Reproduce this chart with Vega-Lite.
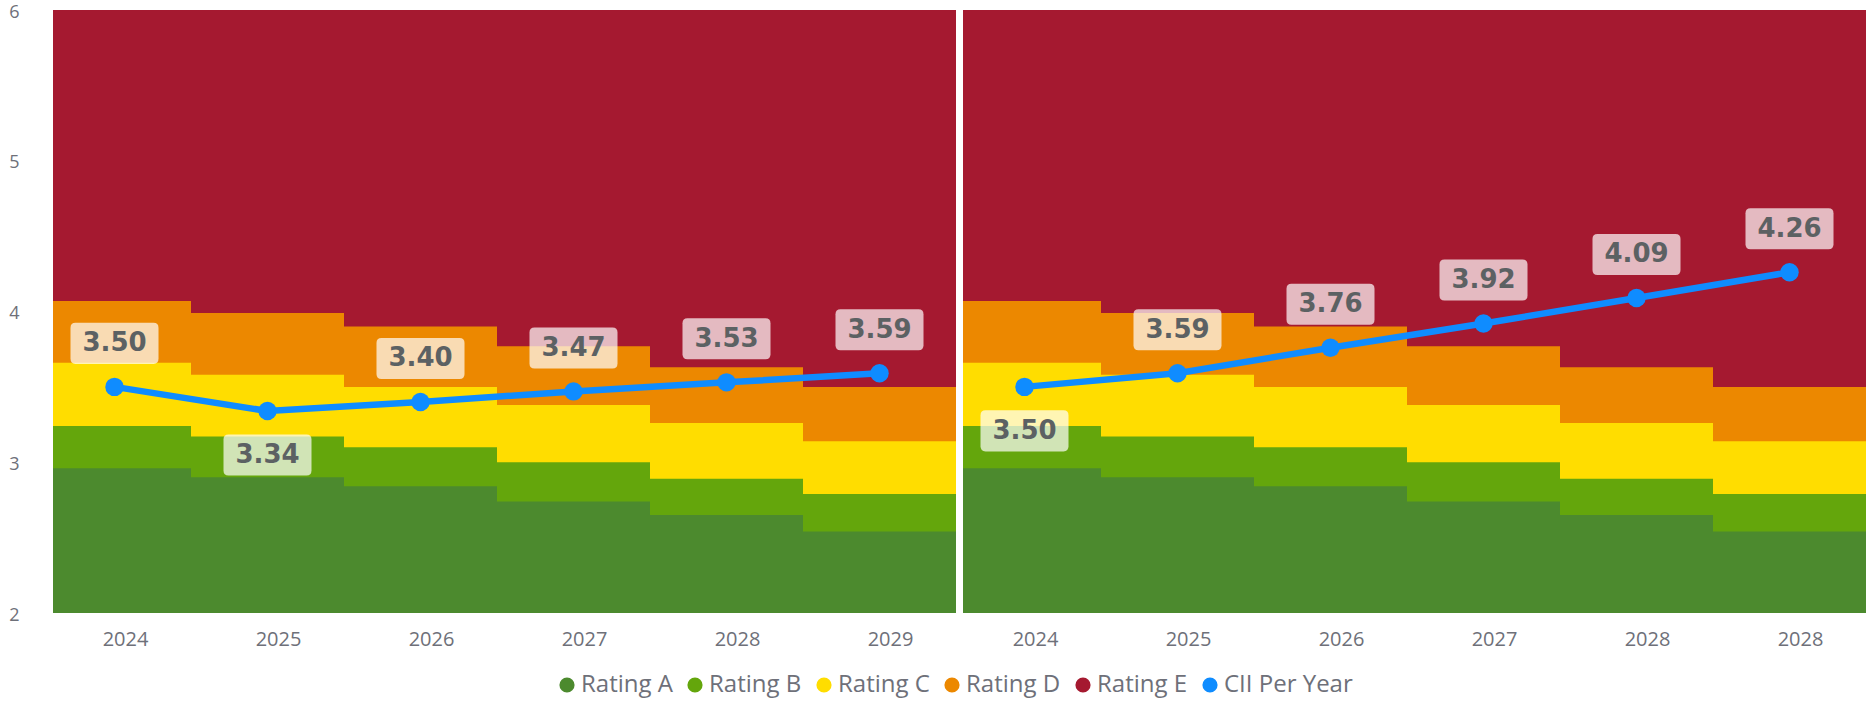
{
  "$schema": "https://vega.github.io/schema/vega-lite/v6.json",
  "background": "white",
  "padding": {"left": 8, "top": 3, "right": 0, "bottom": 4},
  "spacing": 7,
  "bounds": "flush",
  "datasets": {
    "bands": [
      {"panel": "L", "year": "2024", "rating": "Rating E", "hi": 6},
      {"panel": "L", "year": "2025", "rating": "Rating E", "hi": 6},
      {"panel": "L", "year": "2026", "rating": "Rating E", "hi": 6},
      {"panel": "L", "year": "2027", "rating": "Rating E", "hi": 6},
      {"panel": "L", "year": "2028", "rating": "Rating E", "hi": 6},
      {"panel": "L", "year": "2029", "rating": "Rating E", "hi": 6},
      {"panel": "L", "year": "2024", "rating": "Rating D", "hi": 4.07},
      {"panel": "L", "year": "2025", "rating": "Rating D", "hi": 3.99},
      {"panel": "L", "year": "2026", "rating": "Rating D", "hi": 3.90},
      {"panel": "L", "year": "2027", "rating": "Rating D", "hi": 3.77},
      {"panel": "L", "year": "2028", "rating": "Rating D", "hi": 3.63},
      {"panel": "L", "year": "2029", "rating": "Rating D", "hi": 3.50},
      {"panel": "L", "year": "2024", "rating": "Rating C", "hi": 3.66},
      {"panel": "L", "year": "2025", "rating": "Rating C", "hi": 3.58},
      {"panel": "L", "year": "2026", "rating": "Rating C", "hi": 3.50},
      {"panel": "L", "year": "2027", "rating": "Rating C", "hi": 3.38},
      {"panel": "L", "year": "2028", "rating": "Rating C", "hi": 3.26},
      {"panel": "L", "year": "2029", "rating": "Rating C", "hi": 3.14},
      {"panel": "L", "year": "2024", "rating": "Rating B", "hi": 3.24},
      {"panel": "L", "year": "2025", "rating": "Rating B", "hi": 3.17},
      {"panel": "L", "year": "2026", "rating": "Rating B", "hi": 3.10},
      {"panel": "L", "year": "2027", "rating": "Rating B", "hi": 3.00},
      {"panel": "L", "year": "2028", "rating": "Rating B", "hi": 2.89},
      {"panel": "L", "year": "2029", "rating": "Rating B", "hi": 2.79},
      {"panel": "L", "year": "2024", "rating": "Rating A", "hi": 2.96},
      {"panel": "L", "year": "2025", "rating": "Rating A", "hi": 2.90},
      {"panel": "L", "year": "2026", "rating": "Rating A", "hi": 2.84},
      {"panel": "L", "year": "2027", "rating": "Rating A", "hi": 2.74},
      {"panel": "L", "year": "2028", "rating": "Rating A", "hi": 2.65},
      {"panel": "L", "year": "2029", "rating": "Rating A", "hi": 2.54},
      {"panel": "R", "year": "2024", "rating": "Rating E", "hi": 6},
      {"panel": "R", "year": "2025", "rating": "Rating E", "hi": 6},
      {"panel": "R", "year": "2026", "rating": "Rating E", "hi": 6},
      {"panel": "R", "year": "2027", "rating": "Rating E", "hi": 6},
      {"panel": "R", "year": "2028", "rating": "Rating E", "hi": 6},
      {"panel": "R", "year": "2028 ", "rating": "Rating E", "hi": 6},
      {"panel": "R", "year": "2024", "rating": "Rating D", "hi": 4.07},
      {"panel": "R", "year": "2025", "rating": "Rating D", "hi": 3.99},
      {"panel": "R", "year": "2026", "rating": "Rating D", "hi": 3.90},
      {"panel": "R", "year": "2027", "rating": "Rating D", "hi": 3.77},
      {"panel": "R", "year": "2028", "rating": "Rating D", "hi": 3.63},
      {"panel": "R", "year": "2028 ", "rating": "Rating D", "hi": 3.50},
      {"panel": "R", "year": "2024", "rating": "Rating C", "hi": 3.66},
      {"panel": "R", "year": "2025", "rating": "Rating C", "hi": 3.58},
      {"panel": "R", "year": "2026", "rating": "Rating C", "hi": 3.50},
      {"panel": "R", "year": "2027", "rating": "Rating C", "hi": 3.38},
      {"panel": "R", "year": "2028", "rating": "Rating C", "hi": 3.26},
      {"panel": "R", "year": "2028 ", "rating": "Rating C", "hi": 3.14},
      {"panel": "R", "year": "2024", "rating": "Rating B", "hi": 3.24},
      {"panel": "R", "year": "2025", "rating": "Rating B", "hi": 3.17},
      {"panel": "R", "year": "2026", "rating": "Rating B", "hi": 3.10},
      {"panel": "R", "year": "2027", "rating": "Rating B", "hi": 3.00},
      {"panel": "R", "year": "2028", "rating": "Rating B", "hi": 2.89},
      {"panel": "R", "year": "2028 ", "rating": "Rating B", "hi": 2.79},
      {"panel": "R", "year": "2024", "rating": "Rating A", "hi": 2.96},
      {"panel": "R", "year": "2025", "rating": "Rating A", "hi": 2.90},
      {"panel": "R", "year": "2026", "rating": "Rating A", "hi": 2.84},
      {"panel": "R", "year": "2027", "rating": "Rating A", "hi": 2.74},
      {"panel": "R", "year": "2028", "rating": "Rating A", "hi": 2.65},
      {"panel": "R", "year": "2028 ", "rating": "Rating A", "hi": 2.54}
    ],
    "cii": [
      {"panel": "L", "year": "2024", "cii": 3.50},
      {"panel": "L", "year": "2025", "cii": 3.34},
      {"panel": "L", "year": "2026", "cii": 3.40},
      {"panel": "L", "year": "2027", "cii": 3.47},
      {"panel": "L", "year": "2028", "cii": 3.53},
      {"panel": "L", "year": "2029", "cii": 3.59},
      {"panel": "R", "year": "2024", "cii": 3.50},
      {"panel": "R", "year": "2025", "cii": 3.59},
      {"panel": "R", "year": "2026", "cii": 3.76},
      {"panel": "R", "year": "2027", "cii": 3.92},
      {"panel": "R", "year": "2028", "cii": 4.09},
      {"panel": "R", "year": "2028 ", "cii": 4.26}
    ]
  },
  "hconcat": [
    {
      "width": 903,
      "height": 603,
      "layer": [
        {
          "data": {"name": "bands"},
          "transform": [{"filter": "datum.panel == 'L'"}],
          "mark": {"type": "bar", "clip": true},
          "encoding": {
            "x": {"field": "year", "type": "ordinal", "scale": {"range": [-15, 903], "paddingInner": 0, "paddingOuter": 0},
                  "axis": {"title": null, "labelAngle": 0, "ticks": false, "domain": false, "labelFontSize": 20, "labelColor": "#6e7079", "labelPadding": 16, "labelOffset": 11, "labelFont": "Open Sans", "labelExpr": "trim(datum.label)"}},
            "y": {"field": "hi", "type": "quantitative", "scale": {"domain": [2, 6], "nice": false, "zero": false},
                  "axis": {"title": null, "values": [2, 3, 4, 5, 6], "format": "d", "ticks": false, "domain": false, "grid": false, "labelFontSize": 18, "labelColor": "#6e7079", "labelPadding": 34, "labelOffset": 2, "labelFont": "Open Sans"}},
            "y2": {"datum": 2},
            "color": {"field": "rating", "type": "nominal",
                      "scale": {"domain": ["Rating A", "Rating B", "Rating C", "Rating D", "Rating E", "CII Per Year"], "range": ["#4c8a2e", "#64a60c", "#ffdd00", "#ec8800", "#a51930", "#0f8cff"]},
                      "legend": {"title": null, "orient": "none", "legendX": 502, "legendY": 663, "direction": "horizontal", "symbolType": "circle", "symbolSize": 230, "symbolStrokeWidth": 0, "labelFontSize": 24, "labelColor": "#6e7079", "labelFont": "Open Sans", "labelOffset": 2, "columnPadding": 10}}
          }
        },
        {
          "data": {"name": "cii"},
          "transform": [{"filter": "datum.panel == 'L'"}],
          "layer": [
            {"mark": {"type": "line", "color": "#0f8cff", "strokeWidth": 6.5}, "encoding": {"x": {"field": "year", "type": "ordinal"}, "y": {"field": "cii", "type": "quantitative"}}},
            {"mark": {"type": "point", "filled": true, "size": 340, "opacity": 1}, "encoding": {"x": {"field": "year", "type": "ordinal"}, "y": {"field": "cii", "type": "quantitative"}, "color": {"datum": "CII Per Year"}}},
            {
              "transform": [{"joinaggregate": [{"op": "min", "field": "cii", "as": "minc"}]}],
              "layer": [
                {"transform": [{"filter": "datum.cii > datum.minc"}], "mark": {"type": "point", "shape": "M -0.886 -0.466 L 0.886 -0.466 Q 1 -0.466 1 -0.352 L 1 0.352 Q 1 0.466 0.886 0.466 L -0.886 0.466 Q -1 0.466 -1 0.352 L -1 -0.352 Q -1 -0.466 -0.886 -0.466 Z", "size": 7744, "filled": true, "fill": "white", "fillOpacity": 0.7, "strokeWidth": 0, "yOffset": -43.5}, "encoding": {"x": {"field": "year", "type": "ordinal"}, "y": {"field": "cii", "type": "quantitative"}}},
                {"transform": [{"filter": "datum.cii == datum.minc"}], "mark": {"type": "point", "shape": "M -0.886 -0.466 L 0.886 -0.466 Q 1 -0.466 1 -0.352 L 1 0.352 Q 1 0.466 0.886 0.466 L -0.886 0.466 Q -1 0.466 -1 0.352 L -1 -0.352 Q -1 -0.466 -0.886 -0.466 Z", "size": 7744, "filled": true, "fill": "white", "fillOpacity": 0.7, "strokeWidth": 0, "yOffset": 44}, "encoding": {"x": {"field": "year", "type": "ordinal"}, "y": {"field": "cii", "type": "quantitative"}}},
                {"transform": [{"filter": "datum.cii > datum.minc"}], "mark": {"type": "text", "font": "DejaVu Sans", "fontWeight": "bold", "fontSize": 26, "color": "#5c6163", "baseline": "middle", "align": "center", "yOffset": -43.5}, "encoding": {"x": {"field": "year", "type": "ordinal"}, "y": {"field": "cii", "type": "quantitative"}, "text": {"field": "cii", "type": "quantitative", "format": ".2f"}}},
                {"transform": [{"filter": "datum.cii == datum.minc"}], "mark": {"type": "text", "font": "DejaVu Sans", "fontWeight": "bold", "fontSize": 26, "color": "#5c6163", "baseline": "middle", "align": "center", "yOffset": 44}, "encoding": {"x": {"field": "year", "type": "ordinal"}, "y": {"field": "cii", "type": "quantitative"}, "text": {"field": "cii", "type": "quantitative", "format": ".2f"}}}
              ]
            }
          ]
        }
      ]
    },
    {
      "width": 903,
      "height": 603,
      "layer": [
        {
          "data": {"name": "bands"},
          "transform": [{"filter": "datum.panel == 'R'"}],
          "mark": {"type": "bar", "clip": true},
          "encoding": {
            "x": {"field": "year", "type": "ordinal", "scale": {"range": [-15, 903], "paddingInner": 0, "paddingOuter": 0},
                  "axis": {"title": null, "labelAngle": 0, "ticks": false, "domain": false, "labelFontSize": 20, "labelColor": "#6e7079", "labelPadding": 16, "labelOffset": 11, "labelFont": "Open Sans", "labelExpr": "trim(datum.label)"}},
            "y": {"field": "hi", "type": "quantitative", "scale": {"domain": [2, 6], "nice": false, "zero": false}, "axis": null},
            "y2": {"datum": 2},
            "color": {"field": "rating", "type": "nominal",
                      "scale": {"domain": ["Rating A", "Rating B", "Rating C", "Rating D", "Rating E", "CII Per Year"], "range": ["#4c8a2e", "#64a60c", "#ffdd00", "#ec8800", "#a51930", "#0f8cff"]},
                      "legend": {"title": null, "orient": "none", "legendX": 502, "legendY": 663, "direction": "horizontal", "symbolType": "circle", "symbolSize": 230, "symbolStrokeWidth": 0, "labelFontSize": 24, "labelColor": "#6e7079", "labelFont": "Open Sans", "labelOffset": 2, "columnPadding": 10}}
          }
        },
        {
          "data": {"name": "cii"},
          "transform": [{"filter": "datum.panel == 'R'"}],
          "layer": [
            {"mark": {"type": "line", "color": "#0f8cff", "strokeWidth": 6.5}, "encoding": {"x": {"field": "year", "type": "ordinal"}, "y": {"field": "cii", "type": "quantitative"}}},
            {"mark": {"type": "point", "filled": true, "size": 340, "opacity": 1}, "encoding": {"x": {"field": "year", "type": "ordinal"}, "y": {"field": "cii", "type": "quantitative"}, "color": {"datum": "CII Per Year"}}},
            {
              "transform": [{"joinaggregate": [{"op": "min", "field": "cii", "as": "minc"}]}],
              "layer": [
                {"transform": [{"filter": "datum.cii > datum.minc"}], "mark": {"type": "point", "shape": "M -0.886 -0.466 L 0.886 -0.466 Q 1 -0.466 1 -0.352 L 1 0.352 Q 1 0.466 0.886 0.466 L -0.886 0.466 Q -1 0.466 -1 0.352 L -1 -0.352 Q -1 -0.466 -0.886 -0.466 Z", "size": 7744, "filled": true, "fill": "white", "fillOpacity": 0.7, "strokeWidth": 0, "yOffset": -43.5}, "encoding": {"x": {"field": "year", "type": "ordinal"}, "y": {"field": "cii", "type": "quantitative"}}},
                {"transform": [{"filter": "datum.cii == datum.minc"}], "mark": {"type": "point", "shape": "M -0.886 -0.466 L 0.886 -0.466 Q 1 -0.466 1 -0.352 L 1 0.352 Q 1 0.466 0.886 0.466 L -0.886 0.466 Q -1 0.466 -1 0.352 L -1 -0.352 Q -1 -0.466 -0.886 -0.466 Z", "size": 7744, "filled": true, "fill": "white", "fillOpacity": 0.7, "strokeWidth": 0, "yOffset": 44}, "encoding": {"x": {"field": "year", "type": "ordinal"}, "y": {"field": "cii", "type": "quantitative"}}},
                {"transform": [{"filter": "datum.cii > datum.minc"}], "mark": {"type": "text", "font": "DejaVu Sans", "fontWeight": "bold", "fontSize": 26, "color": "#5c6163", "baseline": "middle", "align": "center", "yOffset": -43.5}, "encoding": {"x": {"field": "year", "type": "ordinal"}, "y": {"field": "cii", "type": "quantitative"}, "text": {"field": "cii", "type": "quantitative", "format": ".2f"}}},
                {"transform": [{"filter": "datum.cii == datum.minc"}], "mark": {"type": "text", "font": "DejaVu Sans", "fontWeight": "bold", "fontSize": 26, "color": "#5c6163", "baseline": "middle", "align": "center", "yOffset": 44}, "encoding": {"x": {"field": "year", "type": "ordinal"}, "y": {"field": "cii", "type": "quantitative"}, "text": {"field": "cii", "type": "quantitative", "format": ".2f"}}}
              ]
            }
          ]
        }
      ]
    }
  ],
  "resolve": {"scale": {"y": "shared", "color": "shared"}},
  "config": {
    "view": {"stroke": null},
    "font": "Open Sans"
  }
}
